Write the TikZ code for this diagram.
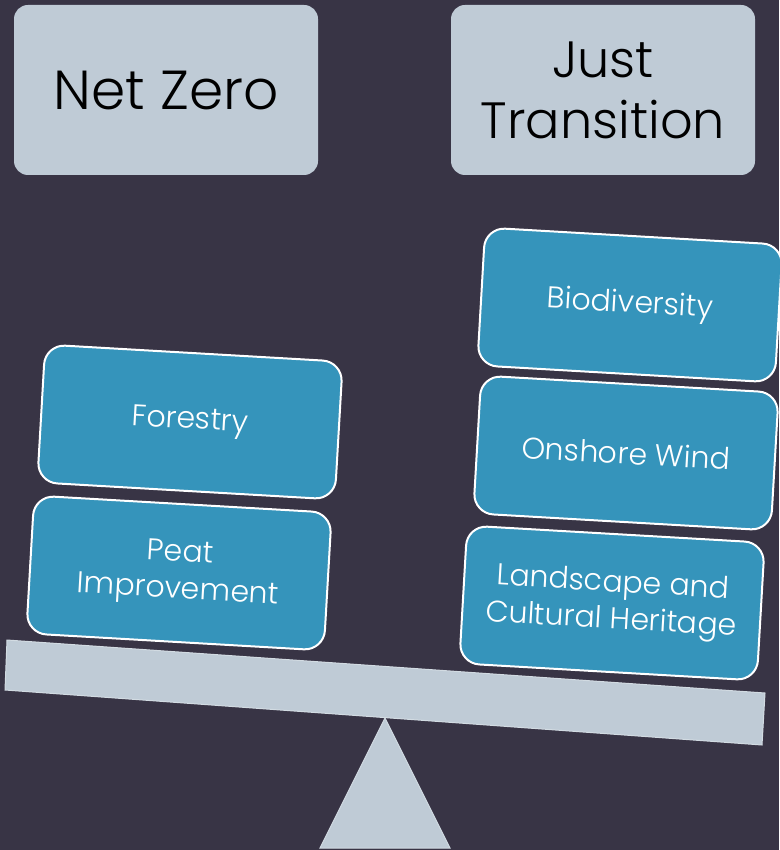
\documentclass[tikz,border=0pt]{standalone}
\usepackage{fontspec}
\setmainfont{Poppins Light}
\definecolor{bg}{RGB}{56,52,69}
\definecolor{pale}{RGB}{191,203,214}
\definecolor{tilefill}{RGB}{53,148,187}
\begin{document}
\begin{tikzpicture}[x=1pt,y=-1pt,
 header/.style={fill=pale, rounded corners=14pt, minimum width=304pt, minimum height=170pt, align=center, font=\fontsize{51}{61}\selectfont, text=black, inner sep=0pt},
 tilebox/.style={fill=tilefill, draw=white, line width=2pt, rounded corners=20pt, minimum width=298pt, minimum height=138pt, rotate=-3.3, align=center, text=white, font=\fontsize{30}{37}\selectfont, inner sep=0pt},
 basepart/.style={fill=pale, draw=pale!70!white, line width=1pt}]
\fill[bg] (0,0) rectangle (779,850);
\useasboundingbox (0,0) rectangle (779,850);
\node[header] (nz) at (166,90) {\fontsize{55}{61}\selectfont Net Zero};
\node[header] (jt) at (603,90) {Just\\Transition};
\draw[basepart] (385,718) -- (450,848) -- (320,848) -- cycle;
\draw[basepart] (7,640) -- (765,693) -- (762,745) -- (5,690) -- cycle;
\node[tilebox] (forest) at (190,422) {Forestry};
\node[tilebox] (peat) at (179,573) {Peat\\Improvement};
\node[tilebox] (bio) at (630,305) {Biodiversity};
\node[tilebox] (wind) at (626,453) {Onshore Wind};
\node[tilebox] (land) at (612,603) {Landscape and\\Cultural Heritage};
\end{tikzpicture}
\end{document}
